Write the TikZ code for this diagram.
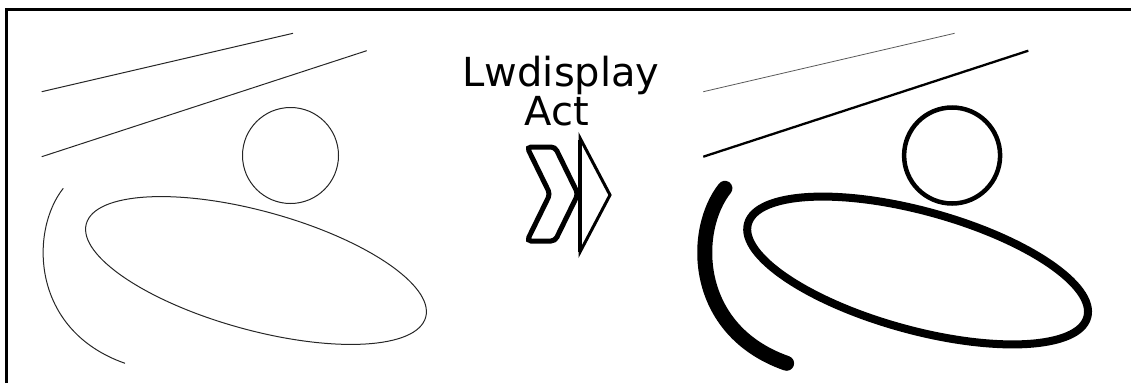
\documentclass[tikz,border=0pt]{standalone}
\usepackage{fontspec}
\newfontfamily\labelfont{DejaVu Sans}
\begin{document}
\begin{tikzpicture}[x=1pt,y=-1pt,
  frame/.style={line width=3pt,black},
  thinline/.style={line width=1pt,black!85},
  hairline/.style={line width=0.8pt,black!65},
  label/.style={font=\labelfont\fontsize{40}{40}\selectfont,inner sep=0pt,anchor=base},
  arrowpart/.style={line width=3pt,black}]
\useasboundingbox (0,0) rectangle (1131,383);
% frame (top and left edges)
\draw[frame,line join=miter] (6.5,383) -- (6.5,9.3) -- (1131,9.3);

% ---------- left panel (before) ----------
\draw[thinline] (41.7,91.7) -- (293,33.3);
\draw[thinline] (41.7,156.7) -- (366.7,50.7);
\draw[thinline] (290.5,155.5) circle (48pt);
\begin{scope}[shift={(256,270.5)},rotate=-15.4]
\draw[thinline] (0,0) ellipse [x radius=176pt, y radius=59.4pt];
\end{scope}
\draw[thinline] (63.3,188.3) .. controls (30,230) and (30,330) .. (125,363.3);

% ---------- label and double chevron ----------
\node[label] (t1) at (561,86.7) {Lwdisplay};
\node[label] (t2) at (557,125) {Act};
\draw[line width=5pt,black,rounded corners=4pt]
  (527,147) -- (555,147) -- (578,194) -- (555,241) -- (527,241) -- (550,194) -- cycle;
\draw[arrowpart,line join=miter] (580,138) -- (610,195) -- (580,252) -- cycle;
\fill[black] (578.3,140) rectangle (582,252);

% ---------- right panel (after) ----------
\begin{scope}[xshift=661.6pt]
\draw[hairline] (41.7,91.7) -- (293,33.3);
\draw[line width=2.3pt,black] (41.7,156.7) -- (366.7,50.7);
\draw[line width=4.5pt,black] (290.5,155.5) circle (48pt);
\begin{scope}[shift={(256,270.5)},rotate=-15.4]
\draw[line width=8pt,black] (0,0) ellipse [x radius=176pt, y radius=59.4pt];
\end{scope}
\draw[line width=15pt,black,line cap=round] (63.3,188.3) .. controls (30,230) and (30,330) .. (125,363.3);
\end{scope}
\end{tikzpicture}
\end{document}
